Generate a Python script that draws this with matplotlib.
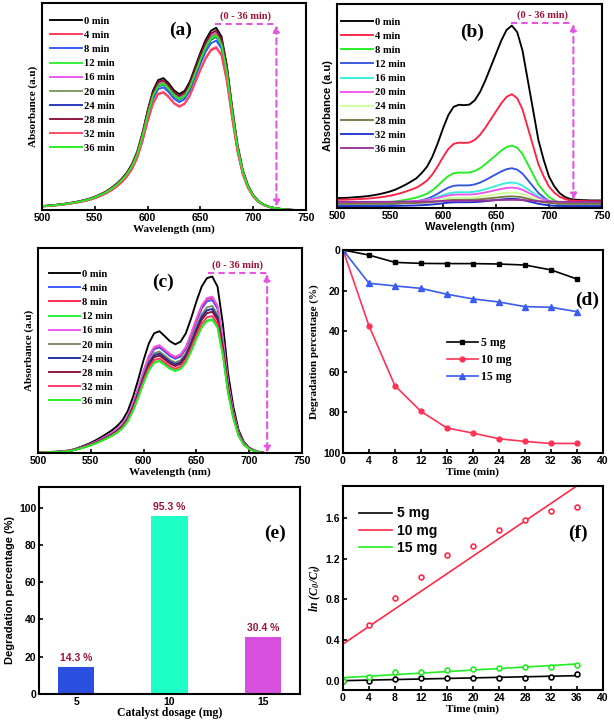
import numpy as np
import matplotlib
matplotlib.use('Agg')
import matplotlib.pyplot as plt

plt.rcParams['font.family'] = ['Liberation Sans', 'DejaVu Sans']
plt.rcParams['font.weight'] = 'bold'
plt.rcParams['mathtext.fontset'] = 'custom'
plt.rcParams['mathtext.rm'] = 'Liberation Serif:bold:italic'
plt.rcParams['mathtext.it'] = 'Liberation Serif:bold:italic'

SERIF = 'Liberation Serif'
SANS = 'Liberation Sans'
ARROW_C = '#e455e4'
TXT_RED = '#9a1535'

# ---- data ----
times = ['0 min', '4 min', '8 min', '12 min', '16 min', '20 min', '24 min', '28 min', '32 min', '36 min']
wl = np.arange(500, 751, 5)

# 0 min spectra (arb. absorbance)
spec_a0 = [.019, .021, .023, .026, .029, .033, .037, .042, .048, .055,
           .064, .075, .088, .104, .124, .148, .178, .220, .280, .370,
           .480, .575, .628, .637, .612, .578, .560, .575, .620, .690,
           .760, .822, .866, .880, .838, .700, .500, .320, .195, .120,
           .072, .043, .026, .016, .010, .006, .003, .001, 0, 0, 0]
spec_b0 = [.049, .049, .050, .052, .054, .056, .059, .063, .068, .074,
           .081, .090, .102, .115, .130, .146, .172, .203, .252, .317,
           .390, .455, .496, .506, .504, .507, .528, .569, .626, .691,
           .756, .821, .873, .894, .862, .772, .626, .480, .333, .236,
           .154, .106, .073, .054, .044, .041, .039, .038, .037, .037, .037]
spec_c0 = [.003, .004, .005, .006, .007, .010, .013, .020, .029, .039,
           .050, .063, .078, .094, .111, .132, .160, .205, .274, .360,
           .454, .535, .584, .594, .570, .545, .530, .543, .584, .657,
           .739, .812, .853, .861, .812, .633, .388, .225, .111, .054,
           .026, .013, .004, 0, 0, 0, 0, 0, 0, 0, 0]

# relative peak heights per time
scale_a = [1.0, 0.89, 0.93, 0.955, 0.975, 0.965, 0.95, 0.985, 0.895, 0.955]
peak_b = [0.894, 0.558, 0.306, 0.195, 0.125, 0.100, 0.076, 0.057, 0.045, 0.040]
base_b = [0.040, 0.035, 0.015, 0.010, 0.020, 0.025, 0.020, 0.020, 0.008, 0.030]
scale_c = [1.0, 0.867, 0.88, 0.758, 0.886, 0.833, 0.816, 0.80, 0.776, 0.754]

colors_a = ['#000000', '#ff3355', '#3355ff', '#33ee33', '#ee55ee', '#7a9a5a', '#2233bb', '#881133', '#ff4466', '#22ee22']
colors_b = ['#000000', '#ff2244', '#22ee22', '#3355dd', '#33eedd', '#ee55ee', '#ccff99', '#777744', '#2233cc', '#993399']
colors_c = ['#000000', '#3355ff', '#ff2255', '#22ee33', '#ee55ee', '#778866', '#1a2a99', '#881133', '#ff3366', '#22ee22']

t = [0, 4, 8, 12, 16, 20, 24, 28, 32, 36]
deg_5 = [0, 2.5, 6.1, 6.6, 6.7, 6.7, 6.9, 7.4, 9.8, 14.3]
deg_10 = [0, 37.4, 66.9, 79.5, 87.7, 90.2, 93.0, 94.3, 95.3, 95.3]
deg_15 = [0, 16.4, 17.7, 18.9, 21.8, 24.1, 25.6, 27.9, 28.2, 30.4]

dosage = [5, 10, 15]
final_deg = [14.3, 95.3, 30.4]
bar_colors = ['#2b4fe0', '#1effc8', '#d84fe0']

ln_5 = [0, 0.0, 0.016, 0.023, 0.026, 0.026, 0.026, 0.030, 0.033, 0.066]
ln_10 = [0, 0.549, 0.818, 1.022, 1.239, 1.330, 1.480, 1.580, 1.672, 1.715]
ln_15 = [0, 0.033, 0.082, 0.089, 0.105, 0.115, 0.122, 0.131, 0.138, 0.154]

W, H = 614, 724
fig = plt.figure(figsize=(W / 100, H / 100), dpi=100)


def px_axes(l, t_, r, b):
    return fig.add_axes([l / W, 1 - b / H, (r - l) / W, (b - t_) / H])


def style(ax, yticks=True):
    for s in ax.spines.values():
        s.set_linewidth(1.5)
    ax.tick_params(direction='in', length=3, width=1.2, labelsize=7.5, pad=2)
    for lab in ax.get_xticklabels() + ax.get_yticklabels():
        lab.set_fontweight('bold')
        lab.set_family(SANS)
    if not yticks:
        ax.set_yticks([])


def spectra_panel(ax, curves, colors, letter, lxy, legxy, arrow, ylfam, xlfam):
    for y, c, lab in zip(curves, colors, times):
        ax.plot(wl, y, color=c, lw=1.35, label=lab)
    ax.set_xlim(500, 750)
    ax.set_ylim(0, 1.0)
    ax.set_xticks([500, 550, 600, 650, 700, 750])
    style(ax, yticks=False)
    ax.set_xlabel('Wavelength (nm)', family=xlfam, fontsize=8, fontweight='bold', labelpad=1)
    ax.set_ylabel('Absorbance (a.u)', family=ylfam, fontsize=8, fontweight='bold', labelpad=3)
    ax.legend(loc='upper left', bbox_to_anchor=legxy, frameon=False, handlelength=3.0,
              handletextpad=0.2, labelspacing=0.45, borderaxespad=0, borderpad=0,
              prop={'family': SERIF, 'weight': 'bold', 'size': 7.6})
    ax.text(lxy[0], lxy[1], letter, transform=ax.transAxes, family=SERIF,
            fontsize=14, fontweight='bold', ha='center', va='center')
    x0, x1, ytop, ybot = arrow
    ax.plot([x0, x1], [ytop, ytop], color=ARROW_C, lw=1.5, ls=(0, (3, 2)))
    ax.annotate('', xy=(x1, ybot), xytext=(x1, ytop - 0.005),
                arrowprops=dict(arrowstyle='<|-|>', color=ARROW_C, lw=1.5,
                                ls=(0, (3, 2)), mutation_scale=9, shrinkA=0, shrinkB=0))
    ax.text((x0 + x1) / 2, ytop + 0.015, '(0 - 36 min)', color=TXT_RED, family=SERIF,
            fontsize=7.5, fontweight='bold', ha='center', va='bottom')


# (a)
ax_a = px_axes(42, 3, 306, 210)
curves_a = [np.array(spec_a0) * s for s in scale_a]
spectra_panel(ax_a, curves_a, colors_a, '(a)', (0.523, 0.87), (0.03, 0.935),
              (664, 722, 0.897, 0.015), SERIF, SERIF)

# (b)
ax_b = px_axes(337, 4, 602, 208)
sb = np.array(spec_b0)
curves_b = [b0 + (p - b0) * (sb - 0.04) / (0.894 - 0.04) for p, b0 in zip(peak_b, base_b)]
spectra_panel(ax_b, curves_b, colors_b, '(b)', (0.51, 0.863), (0.015, 0.935),
              (664, 723, 0.907, 0.04), SANS, SANS)

# (c)
ax_c = px_axes(38, 248, 302, 453)
curves_c = [np.array(spec_c0) * s for s in scale_c]
spectra_panel(ax_c, curves_c, colors_c, '(c)', (0.473, 0.834), (0.04, 0.895),
              (661, 717, 0.878, 0.0), SERIF, SERIF)

# (d)
ax_d = px_axes(343, 250, 603, 453)
ax_d.plot(t, deg_5, color='black', marker='s', ms=3.5, lw=1.2, label='5 mg')
ax_d.plot(t, deg_10, color='#ff3355', marker='o', ms=3.5, lw=1.2, label='10 mg')
ax_d.plot(t, deg_15, color='#3a5cf0', marker='^', ms=4, lw=1.2, label='15 mg')
ax_d.set_xlim(0, 40)
ax_d.set_ylim(100, 0)
ax_d.set_xticks(range(0, 41, 4))
ax_d.set_yticks(range(0, 101, 20))
style(ax_d)
ax_d.set_xlabel('Time (min)', family=SERIF, fontsize=8, fontweight='bold', labelpad=1)
ax_d.set_ylabel('Degradation percentage (%)', family=SERIF, fontsize=8, fontweight='bold', labelpad=3)
ax_d.legend(loc='upper left', bbox_to_anchor=(0.4, 0.57), frameon=False, handlelength=2.6,
            handletextpad=0.3, labelspacing=0.4, borderaxespad=0, borderpad=0,
            prop={'family': SERIF, 'weight': 'bold', 'size': 8.5})
ax_d.text(0.938, 0.754, '(d)', transform=ax_d.transAxes, family=SERIF, fontsize=14,
          fontweight='bold', ha='center', va='center')

# (e)
ax_e = px_axes(39, 487, 300, 694)
ax_e.bar(dosage, final_deg, width=1.95, color=bar_colors)
for x, v in zip(dosage, final_deg):
    ax_e.text(x, v + 2.5, f'{v} %', color=TXT_RED, family=SANS, fontsize=7.5,
              fontweight='bold', ha='center', va='bottom')
ax_e.set_xlim(3, 17)
ax_e.set_ylim(0, 111)
ax_e.set_xticks(dosage)
ax_e.set_yticks(range(0, 101, 20))
style(ax_e)
ax_e.tick_params(axis='x', length=0)
ax_e.set_xlabel('Catalyst dosage (mg)', family=SERIF, fontsize=8.5, fontweight='bold', labelpad=0)
ax_e.set_ylabel('Degradation percentage (%)', family=SANS, fontsize=8, fontweight='bold', labelpad=3)
ax_e.text(0.904, 0.778, '(e)', transform=ax_e.transAxes, family=SERIF, fontsize=14,
          fontweight='bold', ha='center', va='center')

# (f)
ax_f = px_axes(343, 486, 603, 690)
tt = np.array(t)
for ys, c, lab in [(ln_5, 'black', '5 mg'), (ln_10, '#ff2a4a', '10 mg'), (ln_15, '#22ee22', '15 mg')]:
    k, b = np.polyfit(tt, ys, 1)
    ax_f.plot(tt, k * tt + b, color=c, lw=1.2, label=lab)
    ax_f.plot(tt, ys, ls='none', marker='o', ms=3.5, mfc='#ffffff', mec=c, mew=1.2)
ax_f.set_xlim(0, 40)
ax_f.set_ylim(-0.092, 1.918)
ax_f.set_xticks(range(0, 41, 4))
ax_f.set_yticks([0.0, 0.4, 0.8, 1.2, 1.6])
ax_f.set_yticklabels(['0.0', '0.4', '0.8', '1.2', '1.6'])
style(ax_f)
ax_f.set_xlabel('Time (min)', family=SERIF, fontsize=8, fontweight='bold', labelpad=1)
ax_f.set_ylabel(r'$ln\ (C_0/C_t)$', fontsize=8.5, labelpad=2)
ax_f.legend(loc='upper left', bbox_to_anchor=(0.06, 0.9), frameon=False, handlelength=2.4,
            handletextpad=0.4, labelspacing=0.25, borderaxespad=0, borderpad=0,
            prop={'family': SANS, 'weight': 'bold', 'size': 10})
ax_f.text(0.904, 0.77, '(f)', transform=ax_f.transAxes, family=SERIF, fontsize=14,
          fontweight='bold', ha='center', va='center')

fig.savefig('out.png', dpi=100)
